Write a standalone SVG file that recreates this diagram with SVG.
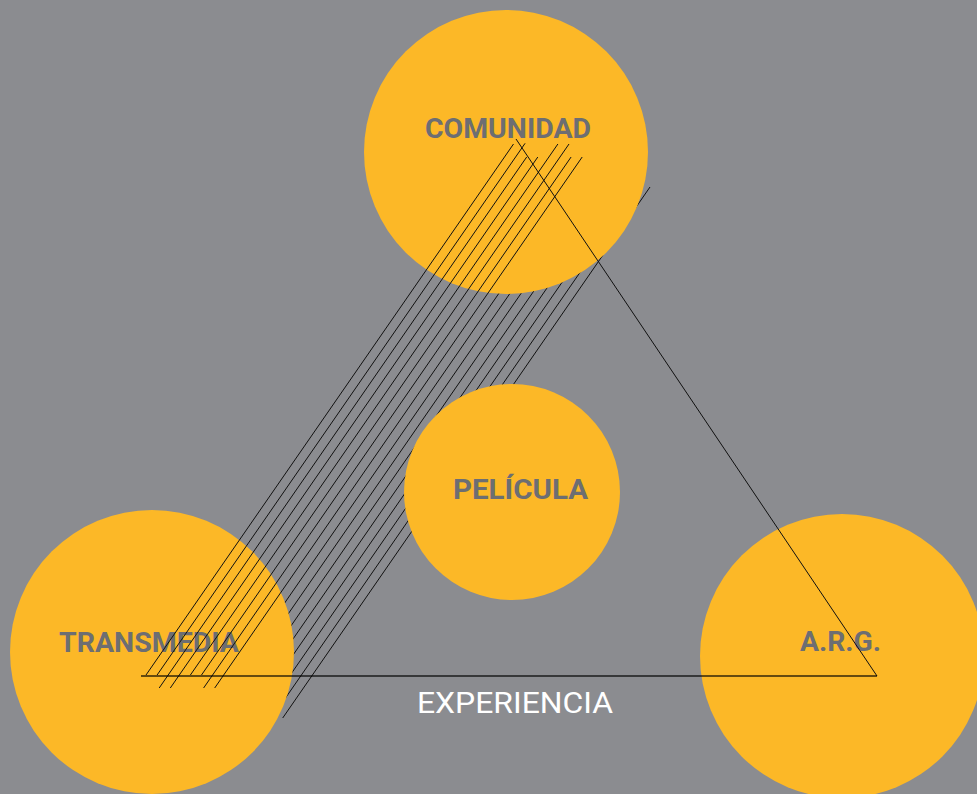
<svg xmlns="http://www.w3.org/2000/svg" width="977" height="794" viewBox="0 0 977 794">
<style>
.bg{fill:#8b8c90}
.node{fill:#fcb827}
.lbl{font-family:Roboto,"Liberation Sans",sans-serif;font-weight:700;font-size:28px;fill:#6d6e72}
.exp{font-family:Roboto,"Liberation Sans",sans-serif;font-weight:400;font-size:30px;fill:#ffffff}
.h{stroke:#111;stroke-width:1;fill:none}
.tri{stroke:#111;stroke-width:1;fill:none}
.base{stroke:#000;stroke-opacity:0.6;stroke-width:2;fill:none}
</style>
<rect class="bg" x="0" y="0" width="977" height="794"/>
<g id="hatch-back">
<line class="h" x1="563.5" y1="200" x2="209.2" y2="712"/>
<line class="h" x1="574.6" y1="200" x2="220.3" y2="712"/>
<line class="h" x1="585.7" y1="200" x2="231.4" y2="712"/>
<line class="h" x1="596.8" y1="200" x2="242.5" y2="712"/>
<line class="h" x1="607.9" y1="200" x2="253.6" y2="712"/>
<line class="h" x1="619.0" y1="200" x2="264.7" y2="712"/>
<line class="h" x1="630.1" y1="200" x2="275.8" y2="712"/>
<line class="h" x1="650" y1="187" x2="282.7" y2="718"/>
</g>
<g id="comunidad">
<circle class="node" cx="506" cy="152" r="142"/>
<text class="lbl" x="425" y="138" textLength="166" lengthAdjust="spacingAndGlyphs">COMUNIDAD</text>
</g>
<g id="pelicula">
<circle class="node" cx="512" cy="492" r="108"/>
<text class="lbl" x="453" y="499" textLength="135" lengthAdjust="spacingAndGlyphs">PELÍCULA</text>
</g>
<g id="transmedia">
<circle class="node" cx="152" cy="652" r="142"/>
<text class="lbl" x="59" y="652" textLength="180" lengthAdjust="spacingAndGlyphs">TRANSMEDIA</text>
</g>
<g id="arg">
<circle class="node" cx="842" cy="656" r="142"/>
<text class="lbl" x="800" y="651" textLength="81" lengthAdjust="spacingAndGlyphs">A.R.G.</text>
</g>
<g id="connectors">
<line class="h" x1="513.5" y1="144" x2="146" y2="675"/>
<line class="h" x1="525.1" y1="143.3" x2="157.1" y2="675"/>
<line class="h" x1="526.7" y1="157" x2="159.2" y2="688"/>
<line class="h" x1="537.8" y1="157" x2="170.3" y2="688"/>
<line class="h" x1="557.9" y1="144" x2="190.4" y2="675"/>
<line class="h" x1="569" y1="144" x2="201.5" y2="675"/>
<line class="h" x1="571.1" y1="157" x2="203.6" y2="688"/>
<line class="h" x1="582.2" y1="157" x2="214.7" y2="688"/>
<line class="tri" x1="516" y1="139" x2="877" y2="676"/>
<line class="base" x1="141" y1="676" x2="877" y2="676"/>
</g>
<g id="experiencia">
<text class="exp" x="417" y="713" textLength="196" lengthAdjust="spacingAndGlyphs">EXPERIENCIA</text>
</g>
</svg>
